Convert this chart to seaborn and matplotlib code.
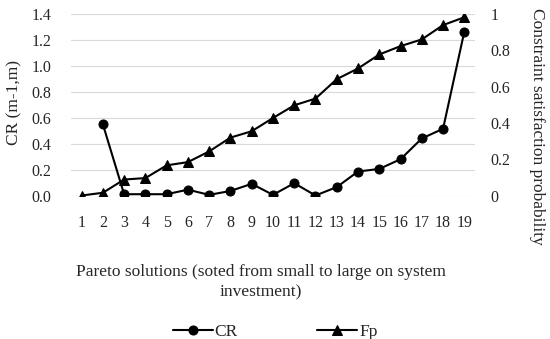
import matplotlib
matplotlib.use("Agg")
import matplotlib.pyplot as plt
import numpy as np
import pandas as pd
import seaborn as sns
from matplotlib.ticker import FuncFormatter, MultipleLocator

# data
solutions = list(range(1, 20))
cr = [np.nan, 0.55, 0.01, 0.01, 0.01, 0.045, 0.005, 0.035, 0.09, 0.005,
      0.095, 0.0, 0.065, 0.185, 0.205, 0.28, 0.44, 0.515, 1.265]
fp = [0.0, 0.015, 0.088, 0.096, 0.166, 0.184, 0.243, 0.319, 0.354, 0.427,
      0.497, 0.534, 0.641, 0.700, 0.777, 0.823, 0.860, 0.939, 0.982]

df = pd.DataFrame({"solution": solutions, "CR": cr, "Fp": fp})

sns.set_style("white")
plt.rcParams["font.family"] = ["Liberation Serif", "DejaVu Serif"]

fig = plt.figure(figsize=(5.5, 3.39), dpi=100)
ax = fig.add_axes([0.129, 0.4233, 0.7346, 0.5354])
ax2 = ax.twinx()

sns.lineplot(data=df, x="solution", y="CR", ax=ax, color="black", marker="o",
             markersize=6.5, markeredgecolor="black", linewidth=1.5, label="CR")
sns.lineplot(data=df, x="solution", y="Fp", ax=ax2, color="black", marker="^",
             markersize=6.5, markeredgecolor="black", linewidth=1.5, label="Fp")

ax.set_xlim(0.5, 19.5)
ax.set_ylim(0, 1.4)
ax2.set_ylim(0, 1.0)
ax.yaxis.set_major_locator(MultipleLocator(0.2))
ax2.yaxis.set_major_locator(MultipleLocator(0.2))
ax.yaxis.set_major_formatter(FuncFormatter(lambda v, p: f"{v:.1f}"))
ax2.yaxis.set_major_formatter(FuncFormatter(lambda v, p: f"{v:g}"))
ax.set_xticks(solutions)

ax.grid(axis="y", color="#d9d9d9", linewidth=0.8)
ax.set_axisbelow(True)
for a in (ax, ax2):
    for s in a.spines.values():
        s.set_visible(False)

ax.tick_params(axis="y", length=0, pad=14, labelsize=11.5)
ax.tick_params(axis="x", length=0, pad=14, labelsize=11.5)
ax2.tick_params(axis="y", length=0, pad=11, labelsize=11.5)

ax.set_xlabel("")
ax.set_ylabel("CR (m-1,m)", fontsize=12.5, va="center")
ax.yaxis.set_label_coords(-0.14, 0.51)
ax2.set_ylabel("Constraint satisfaction probability", fontsize=12.5,
               rotation=-90, va="center")
ax2.yaxis.set_label_coords(1.153, 0.383)

fig.text(0.4745, 0.168,
         "Pareto solutions (soted from small to large on system\ninvestment)",
         ha="center", va="center", fontsize=12.5, linespacing=1.4)

h1, l1 = ax.get_legend_handles_labels()
h2, l2 = ax2.get_legend_handles_labels()
ax.get_legend().remove()
ax2.get_legend().remove()
fig.legend(h1 + h2, l1 + l2, loc="center", bbox_to_anchor=(0.5, 0.021),
           ncol=2, frameon=False, fontsize=12.5, columnspacing=4.6,
           handlelength=2.3, handletextpad=0.1)

fig.savefig("out.png", dpi=100)
